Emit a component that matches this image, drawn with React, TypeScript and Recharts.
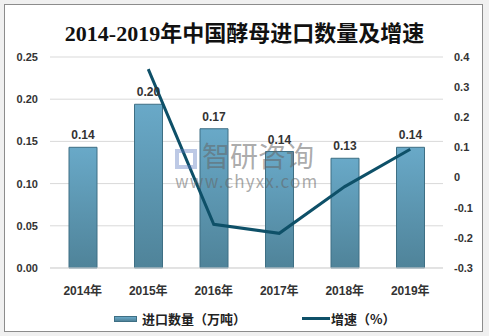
import React from 'react';
import {
  ComposedChart,
  Bar,
  Line,
  XAxis,
  YAxis,
  CartesianGrid,
  LabelList,
} from 'recharts';

const years = ['2014年', '2015年', '2016年', '2017年', '2018年', '2019年'];
const importVolume = [0.143, 0.194, 0.165, 0.138, 0.13, 0.143];
const volumeLabels = ['0.14', '0.20', '0.17', '0.14', '0.13', '0.14'];
const growthRate = [null, 0.36, -0.155, -0.185, -0.03, 0.094];
const leftTicks = [0, 0.05, 0.1, 0.15, 0.2, 0.25];
const rightTicks = [-0.3, -0.2, -0.1, 0, 0.1, 0.2, 0.3, 0.4];

const data = years.map((year, i) => ({
  year,
  volume: importVolume[i],
  label: volumeLabels[i],
  growth: growthRate[i],
}));

const FONT = '"Liberation Sans", "Noto Sans CJK SC", sans-serif';
const LINE_COLOR = '#0e5068';
const tickStyle = { fontSize: 11, fontWeight: 'bold', fill: '#333', fontFamily: FONT };

const App: React.FC = () => {
  return (
    <div
      style={{
        position: 'fixed',
        left: 0,
        top: 0,
        width: 489,
        height: 336,
        background: '#f0f0f0',
        fontFamily: FONT,
      }}
    >
      {/* frame */}
      <div
        style={{
          position: 'absolute',
          left: 4,
          top: 4,
          width: 477,
          height: 326,
          background: '#fff',
          border: '1px solid #8c8c8c',
        }}
      />
      <div
        style={{
          position: 'absolute',
          left: 0,
          top: 15,
          width: 489,
          textAlign: 'center',
          fontFamily: '"Liberation Serif", "Noto Sans CJK SC", serif',
          fontWeight: 'bold',
          fontSize: 22,
          color: '#111',
        }}
      >
        2014-2019年中国酵母进口数量及增速
      </div>

      <div style={{ position: 'absolute', left: 0, top: 0 }}>
        <ComposedChart
          width={489}
          height={336}
          data={data}
          margin={{ top: 57, right: 0, bottom: 38, left: 0 }}
          barCategoryGap={19}
        >
          <defs>
            <linearGradient id="barFill" x1="0" y1="0" x2="0" y2="1">
              <stop offset="0%" stopColor="#69a9c8" />
              <stop offset="100%" stopColor="#4f8399" />
            </linearGradient>
          </defs>
          <CartesianGrid
            yAxisId="left"
            vertical={false}
            stroke="#d9d9d9"
            strokeWidth={1}
          />
          <XAxis
            dataKey="year"
            height={30}
            axisLine={{ stroke: '#d9d9d9' }}
            tickLine={false}
            tickMargin={12}
            tick={{ ...tickStyle, fontSize: 12 }}
          />
          <YAxis
            yAxisId="left"
            width={50}
            domain={[0, 0.25]}
            ticks={leftTicks}
            axisLine={false}
            tickLine={false}
            tickMargin={6}
            tickFormatter={(v: number) => v.toFixed(2)}
            tick={tickStyle}
          />
          <YAxis
            yAxisId="right"
            orientation="right"
            width={46}
            domain={[-0.3, 0.4]}
            ticks={rightTicks}
            axisLine={false}
            tickLine={false}
            tickMargin={5}
            tickFormatter={(v: number) => (Math.abs(v) < 1e-9 ? '0' : v.toFixed(1))}
            tick={{ ...tickStyle, textAnchor: 'start' }}
          />
          <Bar
            yAxisId="left"
            dataKey="volume"
            fill="url(#barFill)"
            stroke="#3e6f84"
            strokeWidth={1}
            isAnimationActive={false}
          >
            <LabelList
              dataKey="label"
              position="top"
              offset={8}
              style={{ fontSize: 12, fontWeight: 'bold', fill: '#333', fontFamily: FONT }}
            />
          </Bar>
          <Line
            yAxisId="right"
            dataKey="growth"
            type="linear"
            stroke={LINE_COLOR}
            strokeWidth={3}
            dot={false}
            connectNulls={false}
            isAnimationActive={false}
          />
        </ComposedChart>
      </div>

      {/* watermark */}
      <div
        style={{
          position: 'absolute',
          left: 175,
          top: 138,
          color: 'rgba(100,100,100,0.55)',
          fontSize: 28,
          fontFamily: '"Noto Sans CJK SC", sans-serif',
          lineHeight: '34px',
          pointerEvents: 'none',
          whiteSpace: 'nowrap',
        }}
      >
        <span
          style={{
            display: 'inline-block',
            width: 22,
            height: 20,
            marginRight: 5,
            verticalAlign: '-2px',
            border: '4px solid rgba(90,120,190,0.4)',
            boxSizing: 'border-box',
          }}
        />
        智研咨询
        <div style={{ fontSize: 17, lineHeight: '18px', letterSpacing: 1.2 }}>
          www.chyxx.com
        </div>
      </div>

      {/* legend */}
      <div
        style={{
          position: 'absolute',
          left: 0,
          top: 309,
          width: 489,
          height: 18,
          fontSize: 13,
          fontWeight: 'bold',
          color: '#222',
          fontFamily: '"Noto Sans CJK SC", sans-serif',
        }}
      >
        <div
          style={{
            position: 'absolute',
            left: 114,
            top: 7,
            width: 23,
            height: 6,
            background: 'linear-gradient(#69a9c8, #4f8399)',
            border: '1px solid #3e6f84',
            boxSizing: 'border-box',
          }}
        />
        <span style={{ position: 'absolute', left: 142, top: 0 }}>进口数量（万吨）</span>
        <div
          style={{
            position: 'absolute',
            left: 302,
            top: 8,
            width: 28,
            height: 3,
            background: LINE_COLOR,
          }}
        />
        <span style={{ position: 'absolute', left: 331, top: 0 }}>增速（%）</span>
      </div>
    </div>
  );
};

export default App;
